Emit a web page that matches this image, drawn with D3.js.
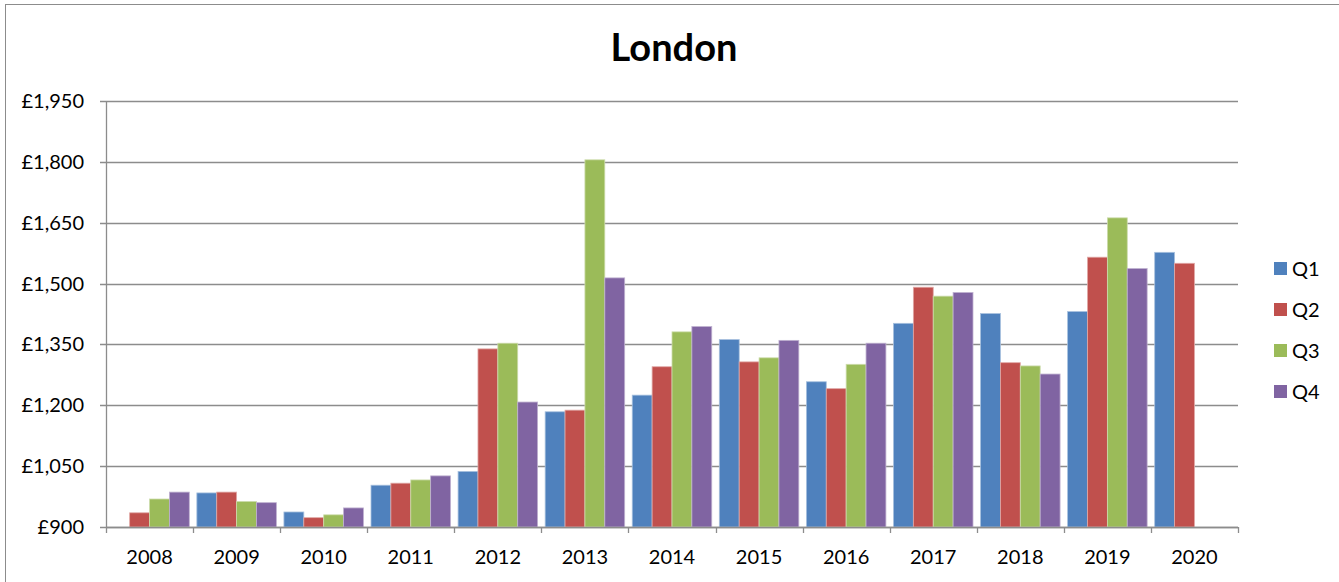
<!DOCTYPE html>
<html>
<head>
<meta charset="utf-8">
<script src="https://cdn.jsdelivr.net/npm/d3@7"></script>
<style>
  body { margin: 0; background: #fff; }
  svg { display: block; font-family: Lato, "Open Sans", sans-serif; }
</style>
</head>
<body>
<div id="chart"></div>
<script>
var years = ["2008","2009","2010","2011","2012","2013","2014","2015","2016","2017","2018","2019","2020"];
var quarters = ["Q1","Q2","Q3","Q4"];
var q1 = [null, 984, 937, 1003, 1037, 1184, 1225, 1362, 1258, 1402, 1426, 1431, 1577];
var q2 = [935, 986, 923, 1008, 1339, 1188, 1295, 1307, 1241, 1491, 1305, 1565, 1550];
var q3 = [969, 963, 930, 1016, 1353, 1805, 1381, 1317, 1301, 1469, 1297, 1662, null];
var q4 = [986, 960, 947, 1026, 1208, 1514, 1394, 1360, 1353, 1478, 1277, 1537, null];
var yTicks = [900, 1050, 1200, 1350, 1500, 1650, 1800, 1950];

var colors = ["#4f81bd", "#c0504d", "#9bbb59", "#8064a2"];
var edges = ["#a7c0de", "#e0a8a6", "#cddcac", "#bfb1d0"];
var W = 1339, H = 582;
var plotL = 106, plotR = 1238, plotT = 101, plotB = 527;

var series = [q1, q2, q3, q4];

var svg = d3.select("#chart").append("svg")
	.attr("width", W)
	.attr("height", H);

// outer frame
svg.append("rect")
	.attr("x", 5.5).attr("y", 4.5)
	.attr("width", W + 10).attr("height", H + 10)
	.attr("fill", "none")
	.attr("stroke", "#8c8c8c")
	.attr("stroke-width", 1);

svg.append("text")
	.attr("x", 674).attr("y", 61)
	.attr("text-anchor", "middle")
	.style("font-size", "38px")
	.style("font-weight", "bold")
	.text("London");

var x = d3.scaleBand().domain(years).range([plotL, plotR]).paddingInner(0).paddingOuter(0);
var xq = d3.scaleBand().domain(quarters).range([0, x.bandwidth()]).paddingOuter(0.19).paddingInner(0);
var y = d3.scaleLinear().domain([900, 1950]).range([plotB, plotT]);

// gridlines
svg.append("g").selectAll("line")
	.data(yTicks)
	.enter()
	.append("line")
	.attr("x1", plotL - 6)
	.attr("x2", plotR)
	.attr("y1", d => Math.round(y(d)) + 0.5)
	.attr("y2", d => Math.round(y(d)) + 0.5)
	.attr("stroke", "#8c8c8c")
	.attr("stroke-width", 1.3);

// bars
var groups = svg.append("g").selectAll("g")
	.data(series)
	.enter()
	.append("g");

groups.each(function(vals, si) {
	d3.select(this).selectAll("rect")
		.data(years.map((yr, i) => ({ yr: yr, v: vals[i] })).filter(d => d.v !== null))
		.enter()
		.append("rect")
		.attr("x", d => x(d.yr) + xq(quarters[si]))
		.attr("y", d => y(d.v))
		.attr("width", xq.bandwidth())
		.attr("height", d => y(900) - y(d.v))
		.attr("fill", colors[si])
		.attr("stroke", edges[si])
		.attr("stroke-width", 0.8);
});

// y axis line
svg.append("line")
	.attr("x1", plotL + 0.5).attr("x2", plotL + 0.5)
	.attr("y1", plotT).attr("y2", plotB)
	.attr("stroke", "#8c8c8c")
	.attr("stroke-width", 1.3);

// x axis line + ticks
svg.append("line")
	.attr("x1", plotL).attr("x2", plotR)
	.attr("y1", plotB + 0.5).attr("y2", plotB + 0.5)
	.attr("stroke", "#8c8c8c")
	.attr("stroke-width", 1.3);

var xTickPos = years.map(d => x(d)).concat([plotR]);
svg.append("g").selectAll("line")
	.data(xTickPos)
	.enter()
	.append("line")
	.attr("x1", d => Math.round(d) + 0.5)
	.attr("x2", d => Math.round(d) + 0.5)
	.attr("y1", plotB)
	.attr("y2", plotB + 6)
	.attr("stroke", "#8c8c8c")
	.attr("stroke-width", 1.3);

// y labels
svg.append("g").selectAll("text")
	.data(yTicks)
	.enter()
	.append("text")
	.attr("x", 84)
	.attr("y", d => y(d) + 7)
	.attr("text-anchor", "end")
	.style("font-size", "20px")
	.text(d => "£" + d3.format(",")(d));

// x labels
svg.append("g").selectAll("text")
	.data(years)
	.enter()
	.append("text")
	.attr("x", d => x(d) + x.bandwidth() / 2)
	.attr("y", 564)
	.attr("text-anchor", "middle")
	.style("font-size", "20px")
	.text(d => d);

// legend
var legend = svg.append("g").selectAll("g")
	.data(quarters)
	.enter()
	.append("g")
	.attr("transform", (d, i) => "translate(1274," + (262 + i * 41) + ")");

legend.append("rect")
	.attr("width", 13).attr("height", 13)
	.attr("fill", (d, i) => colors[i]);

legend.append("text")
	.attr("x", 18)
	.attr("y", 14)
	.style("font-size", "20px")
	.text(d => d);
</script>
</body>
</html>
